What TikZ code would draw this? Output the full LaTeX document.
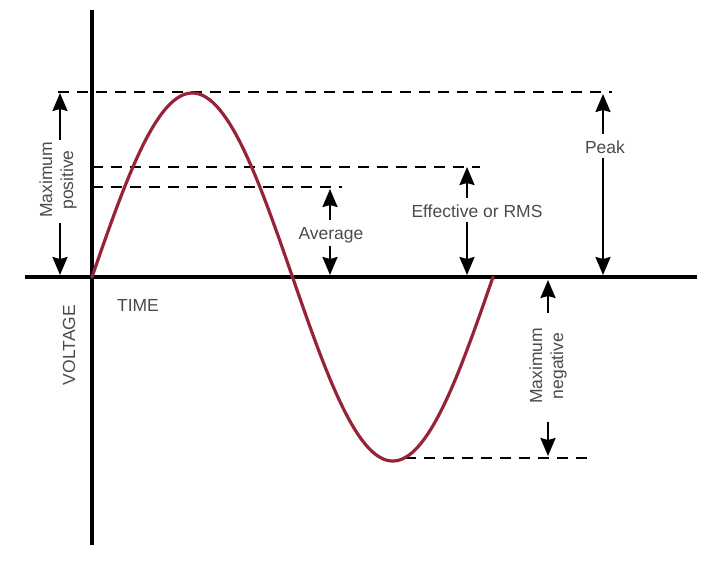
\documentclass[tikz,border=0pt]{standalone}
\usepackage{fontspec}
\setmainfont{Liberation Sans}
\usetikzlibrary{arrows.meta}
\definecolor{wave}{RGB}{150,35,55}
\definecolor{txt}{RGB}{75,75,75}
\tikzset{
  axis/.style={line width=4pt,black},
  dline/.style={line width=2pt,black,dash pattern=on 11pt off 8pt},
  arr/.style={line width=2.2pt,arrows={-Stealth[length=18pt,width=15pt,inset=2pt]}},
  lbl/.style={text=txt,font=\fontsize{17.5}{21}\selectfont,inner sep=0pt,align=center}}
\begin{document}
\begin{tikzpicture}[x=1pt,y=-1pt]
\useasboundingbox (0,0) rectangle (709,566);
% axes
\coordinate (vt) at (92,10);
\coordinate (vb) at (92,545);
\coordinate (hl) at (25,277);
\coordinate (hr) at (697,277);
\draw[axis] (vt) -- (vb);
\draw[axis] (hl) -- (hr);
% dashed levels
\coordinate (pk1) at (58,92);  \coordinate (pk2) at (612,92);
\coordinate (ef1) at (92,167); \coordinate (ef2) at (480,167);
\coordinate (av1) at (92,187); \coordinate (av2) at (342,187);
\coordinate (tr1) at (405,458); \coordinate (tr2) at (588,458);
\draw[dline] (pk1) -- (pk2);
\draw[dline] (ef1) -- (ef2);
\draw[dline] (av1) -- (av2);
\draw[dline] (tr1) -- (tr2);
% wave
\draw[wave,line width=3.2pt,line join=round,line cap=round]
  plot[domain=0:401,samples=200,smooth] ({92+\x},{277-184*sin(\x/200.5*180)});
% maximum positive
\node[lbl,rotate=90] (mp) at (58,180) {Maximum\\positive};
\coordinate (mpt) at (60,93); \coordinate (mpb) at (60,275);
\draw[arr] (60,140) -- (mpt);
\draw[arr] (60,223) -- (mpb);
% average
\node[lbl] (av) at (331,235) {Average};
\coordinate (avt) at (330,189); \coordinate (avb) at (330,275);
\draw[arr] (330,220) -- (avt);
\draw[arr] (330,246) -- (avb);
% effective
\node[lbl] (ef) at (477,211) {Effective or RMS};
\coordinate (eft) at (467,167); \coordinate (efb) at (467,275);
\draw[arr] (467,198) -- (eft);
\draw[arr] (467,222) -- (efb);
% peak
\node[lbl] (pk) at (605,147) {Peak};
\coordinate (pkt) at (603,94); \coordinate (pkb) at (603,275);
\draw[arr] (603,134) -- (pkt);
\draw[arr] (603,158) -- (pkb);
% maximum negative
\node[lbl,rotate=90] (mn) at (548,366) {Maximum\\negative};
\coordinate (mnt) at (548,280); \coordinate (mnb) at (548,456);
\draw[arr] (548,313) -- (mnt);
\draw[arr] (548,422) -- (mnb);
% axis labels
\node[lbl] (time) at (138,305) {TIME};
\node[lbl,rotate=90] (volt) at (69,345) {VOLTAGE};
\end{tikzpicture}
\end{document}
